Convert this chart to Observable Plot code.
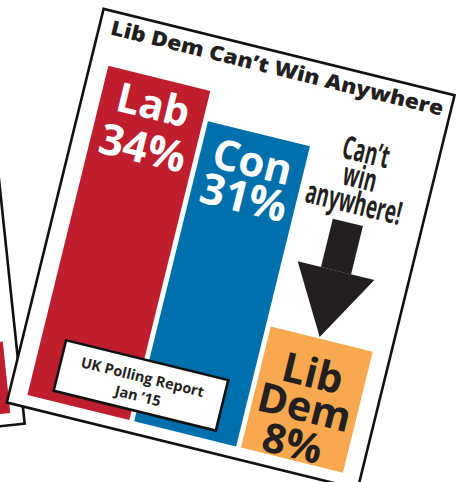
<!DOCTYPE html>
<html><head><meta charset="utf-8">
<script src="https://cdn.jsdelivr.net/npm/d3@7"></script>
<script src="https://cdn.jsdelivr.net/npm/@observablehq/plot@0.6"></script>
<style>
html,body{margin:0;padding:0;background:#fff;overflow:hidden}
</style>
</head><body><div id="chart"></div>
<script>
// ---- data read from the leaflet ----
const parties = ["Lab", "Con", "Lib Dem"];
const labelNames = ["Lab", "Con", "Lib\nDem"];
const pollShares = [34, 31, 8];          // % printed on the bars
const drawnHeights = [34, 31, 12.5];     // bar heights as drawn (Lib Dem bar stretched)
const barColors = ["#BE1E2D", "#0070AD", "#F8A84F"];
const titleText = "Lib Dem Can’t Win Anywhere";
const sourceText = "UK Polling Report\nJan ’15";
const noteLines = ["Can’t", "win", "anywhere!"];
const arrowShaft = [24.5, 19.5];         // arrow shaft top / bottom, in drawn % units
const backSlots = ["a", "b", "c"];
const backBarSlot = ["c"];
const backBarHeights = [7.2];
const backBarColors = ["#BE1E2D"];

const ink = "#231F20";
const font = "Open Sans";
const W = 364, H = 408;

const rows = parties.map((p, i) => ({
  party: p, share: pollShares[i], drawn: drawnHeights[i],
  name: labelNames[i], pct: pollShares[i] + "%"
}));
const byParty = p => rows.filter(d => d.party === p);

// custom down-pointing triangle, tip at the anchor point
const downTriangle = {
  draw(ctx, size) {
    const h = Math.sqrt(size / Math.PI);
    const hw = h / Math.sqrt(3);
    ctx.moveTo(0, 0); ctx.lineTo(-hw, -h); ctx.lineTo(hw, -h); ctx.closePath();
  }
};

const main = Plot.plot({
  width: W, height: H, margin: 0,
  x: {type: "band", domain: parties, range: [19, 346], paddingInner: 0.045, paddingOuter: 0, axis: null},
  y: {type: "linear", domain: [0, 34], range: [395, 56], axis: null},
  color: {domain: parties, range: barColors},
  marks: [
    Plot.frame({fill: "white", stroke: "#111", strokeWidth: 2.6, inset: 1.3}),
    Plot.text([titleText], {frameAnchor: "top", dx: 2, dy: 24.5, lineAnchor: "bottom",
      fontSize: 20.5, fontWeight: 800, fontFamily: font, fill: ink}),
    Plot.barY(rows, {x: "party", y: "drawn", fill: "party"}),
    // Lab
    Plot.text(byParty("Lab"), {x: "party", y: "drawn", text: "name", dy: 41, lineAnchor: "bottom",
      fontSize: 41, fontWeight: 700, fontFamily: font, fill: "white"}),
    Plot.text(byParty("Lab"), {x: "party", y: "drawn", text: "pct", dy: 86, lineAnchor: "bottom",
      fontSize: 43, fontWeight: 700, fontFamily: font, fill: "white"}),
    // Con
    Plot.text(byParty("Con"), {x: "party", y: "drawn", text: "name", dy: 43, lineAnchor: "bottom",
      fontSize: 42, fontWeight: 700, fontFamily: font, fill: "white"}),
    Plot.text(byParty("Con"), {x: "party", y: "drawn", text: "pct", dy: 80, lineAnchor: "bottom",
      fontSize: 43, fontWeight: 700, fontFamily: font, fill: "white"}),
    // Lib Dem
    Plot.text(byParty("Lib Dem"), {x: "party", y: "drawn", text: "name", dx: -1, dy: 84, lineAnchor: "bottom",
      lineHeight: 0.85, fontSize: 41, fontWeight: 700, fontFamily: font, fill: ink}),
    Plot.text(byParty("Lib Dem"), {x: "party", y: "drawn", text: "pct", dx: -4, dy: 122, lineAnchor: "bottom",
      fontSize: 41, fontWeight: 700, fontFamily: font, fill: ink}),
    // arrow
    Plot.ruleX(["Lib Dem"], {x: d => d, y1: arrowShaft[0], y2: arrowShaft[1], dx: -3,
      stroke: ink, strokeWidth: 31, strokeLinecap: "butt"}),
    Plot.dot(byParty("Lib Dem"), {x: "party", y: "drawn", dx: -3, dy: -2, symbol: downTriangle,
      r: 68.4, fill: ink, stroke: "none"}),
    // note
    Plot.text(noteLines, {x: () => "Lib Dem", y: () => arrowShaft[0], text: d => d,
      dx: -2, dy: -10, lineAnchor: "bottom", fontSize: 32, fontWeight: 700,
      fontFamily: font, fill: ink}),
    // source box
    Plot.frame({fill: "white", stroke: "#111", strokeWidth: 2.6,
      insetLeft: 44, insetRight: W - 211, insetTop: 332, insetBottom: H - 384}),
    Plot.text([sourceText], {frameAnchor: "bottom-left", dx: 127, dy: -34, lineAnchor: "bottom",
      textAnchor: "middle", lineHeight: 1.33, fontSize: 14.5, fontWeight: 700, fontFamily: font, fill: ink})
  ]
});

const back = Plot.plot({
  width: W, height: H, margin: 0,
  x: {type: "band", domain: backSlots, range: [19, 350], paddingInner: 0.045, paddingOuter: 0, axis: null},
  y: {type: "linear", domain: [0, 34], range: [395, 56], axis: null},
  marks: [
    Plot.frame({fill: "white", stroke: "#111", strokeWidth: 2.6, inset: 1.3}),
    Plot.barY(backBarSlot.map((s, i) => ({slot: s, v: backBarHeights[i], c: backBarColors[i]})),
      {x: "slot", y: "v", fill: d => d.c})
  ]
});

// letter widths: tracked title, condensed note
const texts = Array.from(main.querySelectorAll("text"));
const titleEl = texts.find(t => t.textContent === titleText);
if (titleEl) { titleEl.setAttribute("textLength", 342); titleEl.setAttribute("lengthAdjust", "spacingAndGlyphs"); }
texts.filter(t => noteLines.includes(t.textContent)).forEach(el => {
  const i = noteLines.indexOf(el.textContent);
  el.setAttribute("transform", (el.getAttribute("transform") || "") + ` translate(0,${(i - 2) * 26}) scale(0.58,1)`);
});

for (const s of [main, back]) {
  s.setAttribute("style", `width:${W}px;height:${H}px;max-width:none;overflow:visible;background:none`);
  s.setAttribute("x", 0); s.setAttribute("y", 0);
}

const outer = d3.create("svg").attr("width", 456).attr("height", 482)
  .attr("viewBox", "0 0 456 482").style("display", "block").style("background", "#fff");
outer.append("g").attr("transform", "translate(-379.1,56.7) rotate(-6)").node().appendChild(back);
outer.append("g").attr("transform", "translate(102.3,6.7) rotate(13.82)").node().appendChild(main);
document.getElementById("chart").appendChild(outer.node());
</script>
</body></html>
